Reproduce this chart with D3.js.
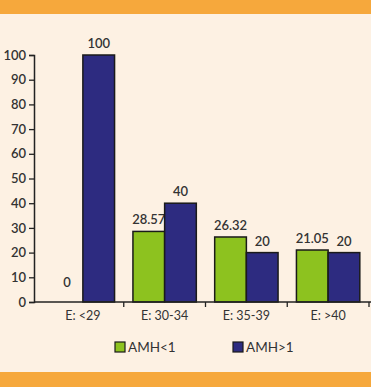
<!DOCTYPE html>
<html>
<head>
<meta charset="utf-8">
<script src="https://cdn.jsdelivr.net/npm/d3@7"></script>
<style>
  html, body { margin: 0; padding: 0; background: #FDF1E3; }
  svg { display: block; }
  text { font-family: "Lato", "Open Sans", sans-serif; fill: #333; }
</style>
</head>
<body>
<script>
const categories = ["E: <29", "E: 30-34", "E: 35-39", "E: >40"];
const seriesNames = ["AMH<1", "AMH>1"];
const amhLow = [0, 28.57, 26.32, 21.05];
const amhHigh = [100, 40, 20, 20];
const yTicks = [0, 10, 20, 30, 40, 50, 60, 70, 80, 90, 100];
const colors = ["#8DC21F", "#2D2B80"];

const W = 371, H = 387;
const svg = d3.select("body").append("svg").attr("width", W).attr("height", H);

svg.append("rect").attr("x", 0).attr("y", 0).attr("width", W).attr("height", H).attr("fill", "#FDF1E3");
svg.append("rect").attr("x", 0).attr("y", 0).attr("width", W).attr("height", 14).attr("fill", "#F6A83C");
svg.append("rect").attr("x", 0).attr("y", 372).attr("width", W).attr("height", 15).attr("fill", "#F6A83C");

const x0 = d3.scaleBand().domain(categories).range([42, 369]).paddingInner(0).paddingOuter(0);
const x1 = d3.scaleBand().domain(seriesNames).range([0, x0.bandwidth()]).paddingInner(0).paddingOuter(0.29);
const y = d3.scaleLinear().domain([0, 100]).range([302, 55]);

const data = categories.map((c, i) => ({ cat: c, vals: [amhLow[i], amhHigh[i]] }));

// y axis
const yAxis = svg.append("g").attr("transform", "translate(34,0)")
  .call(d3.axisLeft(y).tickValues(yTicks).tickSize(5).tickPadding(3));
yAxis.select(".domain").attr("stroke", "#222").attr("stroke-width", 1.5);
yAxis.selectAll(".tick line").attr("stroke", "#222").attr("stroke-width", 1.3);
yAxis.selectAll(".tick text").style("font-family", "Lato, sans-serif").style("font-size", "13px").style("font-weight", "600").attr("fill", "#3a3a3a");

// bars
const g = svg.append("g");
data.forEach(d => {
  d.vals.forEach((v, j) => {
    const bx = x0(d.cat) + x1(seriesNames[j]);
    const bw = x1.bandwidth();
    if (v > 0) {
      g.append("rect")
        .attr("x", bx).attr("y", y(v))
        .attr("width", bw).attr("height", y(0) - y(v))
        .attr("fill", colors[j]).attr("stroke", "#1a1a1a").attr("stroke-width", 1.5);
    }
    g.append("text")
      .attr("x", bx + bw / 2)
      .attr("y", v > 0 ? y(v) - 7 : y(v) - 15)
      .attr("text-anchor", "middle")
      .style("font-size", "13px").style("font-weight", "600")
      .attr("fill", "#3a3a3a")
      .text(v);
  });
});

// x axis
const xAxisG = svg.append("g").attr("transform", "translate(0,302)");
xAxisG.append("line").attr("x1", 34).attr("x2", W).attr("y1", 0).attr("y2", 0)
  .attr("stroke", "#222").attr("stroke-width", 1.5);
const boundaries = categories.slice(1).map(c => x0(c)).concat([x0.range()[1]]);
boundaries.forEach(bx => {
  xAxisG.append("line").attr("x1", bx).attr("x2", bx).attr("y1", 0).attr("y2", 5)
    .attr("stroke", "#222").attr("stroke-width", 1.3);
});
categories.forEach(c => {
  xAxisG.append("text")
    .attr("x", x0(c) + x0.bandwidth() / 2)
    .attr("y", 18)
    .attr("text-anchor", "middle")
    .style("font-size", "12.5px")
    .attr("fill", "#3a3a3a")
    .text(c);
});

// legend
const legendX = [115, 233];
seriesNames.forEach((s, i) => {
  svg.append("rect").attr("x", legendX[i]).attr("y", 342).attr("width", 10).attr("height", 10)
    .attr("fill", colors[i]).attr("stroke", "#1a1a1a").attr("stroke-width", 1.2);
  svg.append("text").attr("x", legendX[i] + 13).attr("y", 352)
    .style("font-size", "13.5px").attr("fill", "#3a3a3a").text(s);
});
</script>
</body>
</html>
